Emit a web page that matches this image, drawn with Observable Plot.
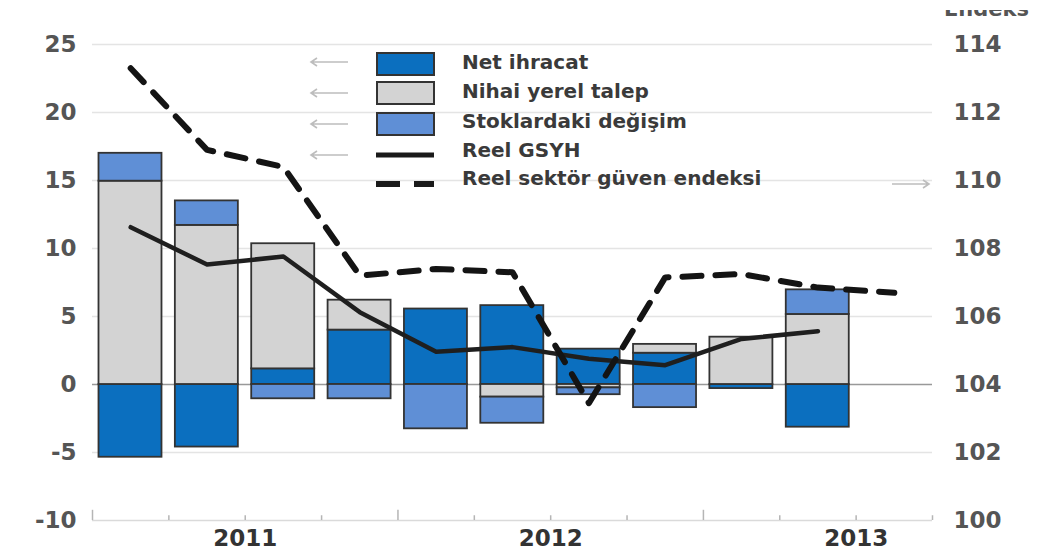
<!DOCTYPE html>
<html>
<head>
<meta charset="utf-8">
<script src="https://cdn.jsdelivr.net/npm/d3@7"></script>
<script src="https://cdn.jsdelivr.net/npm/@observablehq/plot@0.6"></script>
<style>
  body { margin: 0; background: #fff; }
  #wrap { position: relative; width: 1051px; height: 551px; overflow: hidden; background: #fff;
          font-family: "DejaVu Sans", sans-serif; }
  #chart { position: absolute; left: 0; top: 0; }
  .lg-text { position: absolute; left: 462px; font: bold 20px "DejaVu Sans", sans-serif; color: #3a3a3a;
             line-height: 20px; white-space: nowrap; }
  .sw { position: absolute; left: 376px; width: 55px; height: 20px; border: 2px solid #333; }
  #endeks-clip { position: absolute; left: 944px; top: 10px; width: 100px; height: 9px; overflow: hidden; }
  #endeks { position: absolute; left: 0; top: -10.8px; font: bold 21px "DejaVu Sans", sans-serif;
            line-height: 21px; color: #555; white-space: nowrap; }
</style>
</head>
<body>
<div id="wrap">
  <div id="chart"></div>
  <div id="legend"></div>
  <div id="endeks-clip"><div id="endeks"></div></div>
</div>
<script>
// ---- data ----
const quarters = ["2011 Ç1","2011 Ç2","2011 Ç3","2011 Ç4","2012 Ç1","2012 Ç2","2012 Ç3","2012 Ç4","2013 Ç1","2013 Ç2"];
const netIhracat      = [-5.35, -4.6, 1.15, 4.0, 5.55, 5.8, 2.6, 2.3, -0.3, -3.14];
const nihaiYerelTalep = [14.95, 11.7, 9.2, 2.2, 0, -0.93, -0.25, 0.65, 3.48, 5.15];
const stokDegisim     = [2.05, 1.8, -1.05, -1.05, -3.26, -1.92, -0.5, -1.7, 0, 1.81];
const reelGSYH        = [11.57, 8.82, 9.41, 5.32, 2.4, 2.75, 1.9, 1.42, 3.35, 3.92];
const guvenQuarters   = ["2011 Ç1","2011 Ç2","2011 Ç3","2011 Ç4","2012 Ç1","2012 Ç2","2012 Ç3","2012 Ç4","2013 Ç1","2013 Ç2","2013 Ç3"];
const reelSektorGuven = [113.3, 110.9, 110.4, 107.2, 107.4, 107.3, 103.45, 107.15, 107.25, 106.85, 106.7];
const leftTicks  = [-10, -5, 0, 5, 10, 15, 20, 25];
const rightTicks = [100, 102, 104, 106, 108, 110, 112, 114];
const yearLabels = ["2011", "2012", "2013"];
const seriesNames = ["Net ihracat", "Nihai yerel talep", "Stoklardaki değişim"];
const seriesColors = ["#0b6fbf", "#d3d3d3", "#5f8fd6"];
const lineNames = ["Reel GSYH", "Reel sektör güven endeksi"];
const rightAxisTitle = "Endeks";

// right axis (index) <-> left axis (%) mapping
const toLeft = v => (v - 104) * 2.5;
const toRight = v => Math.round(104 + v / 2.5);

// ---- build tables ----
const seriesValues = [netIhracat, nihaiYerelTalep, stokDegisim];
const barRows = [];
seriesValues.forEach((vals, s) => {
  vals.forEach((v, i) => { if (v !== 0) barRows.push({q: i, series: seriesNames[s], value: v}); });
});
const gsyhRows = reelGSYH.map((v, i) => ({q: i + 0.5, label: quarters[i], value: v}));
const guvenRows = reelSektorGuven.map((v, i) => ({q: i + 0.5, label: guvenQuarters[i], value: v}));
const quarterEdges = d3.range(0, guvenQuarters.length + 1);

const font = {fontFamily: "DejaVu Sans", fontWeight: "bold"};

const chart = Plot.plot({
  width: 1051,
  height: 551,
  marginLeft: 92,
  marginRight: 119,
  marginTop: 44,
  marginBottom: 31,
  style: {background: "transparent", fontFamily: "DejaVu Sans"},
  x: {domain: [0, guvenQuarters.length], label: null},
  y: {domain: [-10, 25], label: null},
  color: {domain: seriesNames, range: seriesColors},
  marks: [
    Plot.ruleY(leftTicks.filter(d => d !== 0 && d !== -10), {stroke: "#e4e4e4", strokeWidth: 1.5}),
    Plot.ruleY([-10], {stroke: "#dadada", strokeWidth: 1.5}),
    Plot.ruleX(quarterEdges, {x: d => d, y1: -10, y2: d => d % 4 === 0 ? -9.25 : -9.65, stroke: "#b5b5b5", strokeWidth: 1.5}),
    Plot.ruleY([0], {stroke: "#999", strokeWidth: 1.5}),
    Plot.rect(barRows, Plot.stackY({
      x: "q",
      x1: d => d.q + 0.085,
      x2: d => d.q + 0.91,
      y: "value",
      fill: "series",
      stroke: "#333",
      strokeWidth: 1.8
    })),
    Plot.line(gsyhRows, {x: "q", y: "value", stroke: "#1f1f1f", strokeWidth: 4.5}),
    Plot.line(guvenRows, {x: "q", y: d => toLeft(d.value), stroke: "#141414", strokeWidth: 6,
                          strokeDasharray: "19,14"}),
    Plot.axisY({anchor: "left", label: null, ticks: leftTicks, tickSize: 0, tickPadding: 16,
                tickFormat: d => String(d), fontSize: 23, ...font, fill: "#555"}),
    Plot.axisY({anchor: "right", label: null, ticks: rightTicks.map(toLeft), tickSize: 0, tickPadding: 21,
                tickFormat: d => String(toRight(d)), fontSize: 23, ...font, fill: "#555"}),
    Plot.axisX({label: null, ticks: yearLabels.map((_, i) => 2 + 4 * i), tickSize: 0, tickPadding: 9,
                tickFormat: d => yearLabels[(d - 2) / 4], fontSize: 23, ...font, fill: "#333"})
  ]
});
document.getElementById("chart").appendChild(chart);

// make sure axis text uses the intended font
d3.select(chart).selectAll("g[aria-label$='tick label']")
  .attr("font-family", "DejaVu Sans").attr("font-weight", "bold").attr("font-size", 23);

// ---- legend (HTML overlay) ----
const legend = document.getElementById("legend");
const rowsY = [62, 91, 121, 150, 178];
const swatchTop = [52, 81, 112];
function arrowSvg(x, y, dir) {
  const s = document.createElementNS("http://www.w3.org/2000/svg", "svg");
  s.setAttribute("width", 42); s.setAttribute("height", 12);
  s.style.position = "absolute"; s.style.left = x + "px"; s.style.top = (y - 6) + "px";
  const p = document.createElementNS("http://www.w3.org/2000/svg", "path");
  p.setAttribute("d", dir < 0 ? "M40,6 H3 M9,2 L3,6 L9,10" : "M2,6 H39 M33,2 L39,6 L33,10");
  p.setAttribute("stroke", "#bdbdbd"); p.setAttribute("stroke-width", 1.6); p.setAttribute("fill", "none");
  s.appendChild(p);
  return s;
}
seriesNames.forEach((name, i) => {
  const sw = document.createElement("div");
  sw.className = "sw"; sw.style.top = swatchTop[i] + "px"; sw.style.background = seriesColors[i];
  legend.appendChild(sw);
});
lineNames.forEach((name, i) => {
  const s = document.createElementNS("http://www.w3.org/2000/svg", "svg");
  s.setAttribute("width", 60); s.setAttribute("height", 10);
  s.style.position = "absolute"; s.style.left = "376px"; s.style.top = ([155, 184][i] - 5) + "px";
  const l = document.createElementNS("http://www.w3.org/2000/svg", "line");
  l.setAttribute("x1", 0); l.setAttribute("x2", 58); l.setAttribute("y1", 5); l.setAttribute("y2", 5);
  l.setAttribute("stroke", "#1a1a1a"); l.setAttribute("stroke-width", i === 0 ? 5 : 6);
  if (i === 1) l.setAttribute("stroke-dasharray", "24,14");
  s.appendChild(l);
  legend.appendChild(s);
});
[...seriesNames, ...lineNames].forEach((name, i) => {
  const t = document.createElement("div");
  t.className = "lg-text"; t.textContent = name; t.style.top = (rowsY[i] - 10) + "px";
  legend.appendChild(t);
});
[62, 93, 124, 155].forEach(y => legend.appendChild(arrowSvg(308, y, -1)));
legend.appendChild(arrowSvg(890, 184, 1));
document.getElementById("endeks").textContent = rightAxisTitle;
</script>
</body>
</html>
